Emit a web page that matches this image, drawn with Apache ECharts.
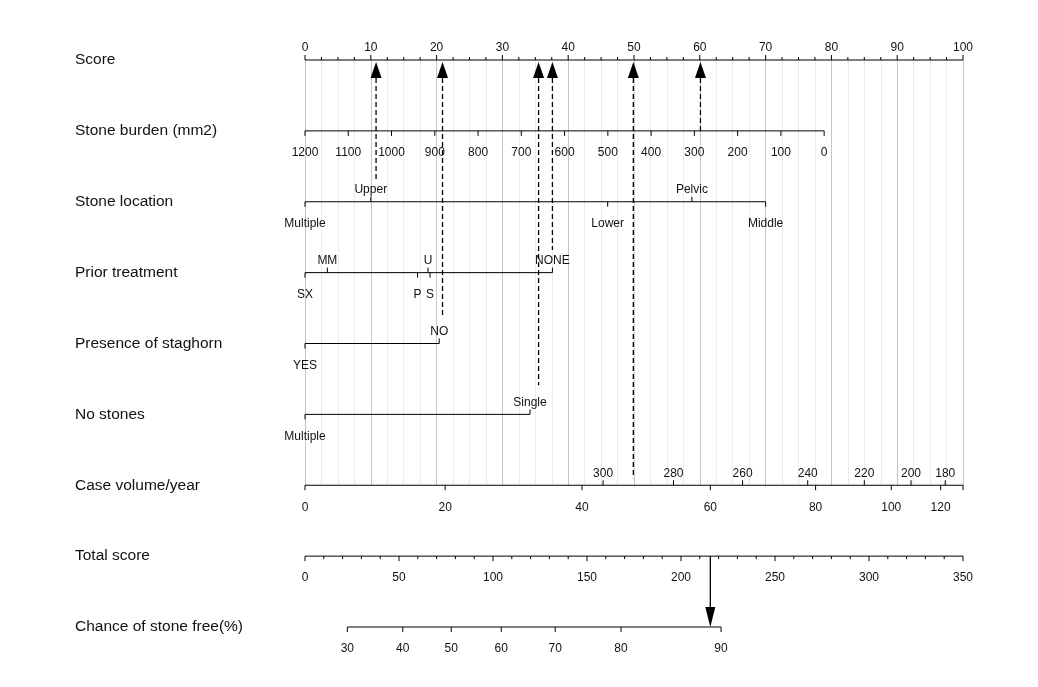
<!DOCTYPE html>
<html>
<head>
<meta charset="utf-8">
<script src="https://cdn.jsdelivr.net/npm/echarts@6/dist/echarts.min.js"></script>
<style>
  html, body { margin: 0; padding: 0; background: #fff; }
  #nomo { width: 1038px; height: 687px; }
</style>
</head>
<body>
<div id="nomo"></div>
<script>
// row names, top to bottom
var rowNames = ['Score', 'Stone burden (mm2)', 'Stone location', 'Prior treatment',
  'Presence of staghorn', 'No stones', 'Case volume/year', 'Total score', 'Chance of stone free(%)'];

// points axis
var scoreTicks = [0, 10, 20, 30, 40, 50, 60, 70, 80, 90, 100];
var scoreMinorStep = 2.5;

// stone burden: 1200 mm2 -> 0 points, 0 mm2 -> burdenMaxPoints
var burdenTicks = [1200, 1100, 1000, 900, 800, 700, 600, 500, 400, 300, 200, 100, 0];
var burdenMaxPoints = 78.9;

var locationLevels = ['Multiple', 'Upper', 'Lower', 'Pelvic', 'Middle'];
var locationPoints = [0, 10.0, 46.0, 58.8, 70.0];
var locationUp = [0, 1, 0, 1, 0];

var priorLevels = ['SX', 'MM', 'P', 'U', 'S', 'NONE'];
var priorPoints = [0, 3.4, 17.1, 18.7, 19.0, 37.6];
var priorUp = [0, 1, 0, 1, 0, 1];

var staghornLevels = ['YES', 'NO'];
var staghornPoints = [0, 20.4];
var staghornUp = [0, 1];

var stonesLevels = ['Multiple', 'Single'];
var stonesPoints = [0, 34.2];
var stonesUp = [0, 1];

// case volume (non-monotone): two label sets on one line
var caseUpperTicks = [300, 280, 260, 240, 220, 200, 180];
var caseUpperPoints = [45.3, 56.0, 66.5, 76.4, 85.0, 92.1, 97.3];
var caseLowerTicks = [0, 20, 40, 60, 80, 100, 120];
var caseLowerPoints = [0, 21.3, 42.1, 61.6, 77.6, 89.1, 96.6];
var caseEndPoints = 100;

// total points axis
var totalTicks = [0, 50, 100, 150, 200, 250, 300, 350];
var totalMinorStep = 10;
var totalMax = 350;

// probability axis, positions in total points
var chanceTicks = [30, 40, 50, 60, 70, 80, 90];
var chanceTotals = [22.5, 52.0, 77.8, 104.4, 133.1, 168.1, 221.3];

// example patient
var patientPoints = [10.8, 20.9, 35.5, 37.6, 49.9, 60.1];
var patientEndRows = [1.69, 3.64, 4.59, 2.68, 5.9, 1.0];
var patientTotal = 215.6;

var FONT = 'Arial, "Liberation Sans", sans-serif';
var chartDom = document.getElementById('nomo');
var myChart = echarts.init(chartDom);

function toTotal(t) { return t * 100 / totalMax; }

function axisLine(row, from, to) {
  return {
    type: 'line', xAxisIndex: 1, yAxisIndex: 1, symbol: 'none', silent: true,
    animation: false, clip: false,
    lineStyle: { color: '#000', width: 1 },
    data: [[from, row], [to, row]]
  };
}

function tickSeries(row, points, labels, up, len) {
  return {
    type: 'custom', xAxisIndex: 1, yAxisIndex: 1, silent: true,
    animation: false, clip: false,
    data: points.map(function (p, i) { return [p, row, up[i] ? 1 : 0]; }),
    renderItem: function (params, api) {
      var c = api.coord([api.value(0), api.value(1)]);
      var dir = api.value(2) ? -1 : 1;
      var label = labels ? String(labels[params.dataIndex]) : '';
      var kids = [{
        type: 'line',
        shape: { x1: c[0], y1: c[1], x2: c[0], y2: c[1] + dir * len },
        style: { stroke: '#000', lineWidth: 1 }
      }];
      if (label) {
        kids.push({
          type: 'text',
          style: {
            text: label, x: c[0], y: dir < 0 ? c[1] - 6 : c[1] + 16,
            align: 'center', verticalAlign: dir < 0 ? 'bottom' : 'top',
            fontSize: 12, fontFamily: FONT, fill: '#111'
          }
        });
      }
      return { type: 'group', children: kids };
    }
  };
}

function fill(arr, v) { return arr.map(function () { return v; }); }
function steps(max, step, skip) {
  var out = [];
  for (var v = 0; v <= max + 1e-9; v += step) {
    if (Math.abs(v / skip - Math.round(v / skip)) > 1e-6) out.push(v);
  }
  return out;
}

var series = [];

// row 0: points
var scoreMinor = steps(100, scoreMinorStep, 10);
series.push(axisLine(0, 0, 100));
series.push(tickSeries(0, scoreTicks, scoreTicks, fill(scoreTicks, 1), 5));
series.push(tickSeries(0, scoreMinor, null, fill(scoreMinor, 1), 3));

// row 1: stone burden
var burdenPoints = burdenTicks.map(function (b) { return burdenMaxPoints * (1200 - b) / 1200; });
series.push(axisLine(1, 0, burdenMaxPoints));
series.push(tickSeries(1, burdenPoints, burdenTicks, fill(burdenTicks, 0), 5));

// rows 2-5: categorical
series.push(axisLine(2, 0, Math.max.apply(null, locationPoints)));
series.push(tickSeries(2, locationPoints, locationLevels, locationUp, 5));
series.push(axisLine(3, 0, Math.max.apply(null, priorPoints)));
series.push(tickSeries(3, priorPoints, priorLevels, priorUp, 5));
series.push(axisLine(4, 0, Math.max.apply(null, staghornPoints)));
series.push(tickSeries(4, staghornPoints, staghornLevels, staghornUp, 5));
series.push(axisLine(5, 0, Math.max.apply(null, stonesPoints)));
series.push(tickSeries(5, stonesPoints, stonesLevels, stonesUp, 5));

// row 6: case volume
series.push(axisLine(6, 0, caseEndPoints));
series.push(tickSeries(6, caseUpperPoints, caseUpperTicks, fill(caseUpperTicks, 1), 5));
series.push(tickSeries(6, caseLowerPoints, caseLowerTicks, fill(caseLowerTicks, 0), 5));
series.push(tickSeries(6, [caseEndPoints], null, [0], 5));

// row 7: total score
var totalMinor = steps(totalMax, totalMinorStep, 50);
series.push(axisLine(7, 0, 100));
series.push(tickSeries(7, totalTicks.map(toTotal), totalTicks, fill(totalTicks, 0), 5));
series.push(tickSeries(7, totalMinor.map(toTotal), null, fill(totalMinor, 0), 3));

// row 8: chance
var chancePts = chanceTotals.map(toTotal);
series.push(axisLine(8, chancePts[0], chancePts[chancePts.length - 1]));
series.push(tickSeries(8, chancePts, chanceTicks, fill(chanceTicks, 0), 5));

// patient arrows up to the points axis
series.push({
  type: 'custom', xAxisIndex: 1, yAxisIndex: 1, silent: true, animation: false, clip: false,
  data: patientPoints.map(function (p, i) { return [p, patientEndRows[i]]; }),
  renderItem: function (params, api) {
    var top = api.coord([api.value(0), 0]);
    var end = api.coord([api.value(0), api.value(1)]);
    var x = top[0], tip = top[1] + 2, base = top[1] + 18;
    return {
      type: 'group', children: [
        { type: 'line', shape: { x1: x, y1: base, x2: x, y2: end[1] },
          style: { stroke: '#000', lineWidth: 1.3, lineDash: [5, 3] } },
        { type: 'polygon', shape: { points: [[x, tip], [x - 5.5, base], [x + 5.5, base]] },
          style: { fill: '#000' } }
      ]
    };
  }
});

// total -> chance arrow
series.push({
  type: 'custom', xAxisIndex: 1, yAxisIndex: 1, silent: true, animation: false, clip: false,
  data: [[toTotal(patientTotal), 7]],
  renderItem: function (params, api) {
    var a = api.coord([api.value(0), 7]);
    var b = api.coord([api.value(0), 8]);
    var x = a[0];
    return {
      type: 'group', children: [
        { type: 'line', shape: { x1: x, y1: a[1], x2: x, y2: b[1] - 14 },
          style: { stroke: '#000', lineWidth: 1.3 } },
        { type: 'polygon', shape: { points: [[x - 5, b[1] - 20], [x + 5, b[1] - 20], [x, b[1]]] },
          style: { fill: '#000' } }
      ]
    };
  }
});

var option = {
  backgroundColor: '#fff',
  animation: false,
  grid: [
    { left: 305, right: 75, top: 60, height: 425.25 },
    { left: 305, right: 75, top: 60, height: 567 }
  ],
  xAxis: [
    {
      gridIndex: 0, type: 'value', min: 0, max: 100, interval: 10,
      axisLine: { show: false }, axisTick: { show: false }, axisLabel: { show: false },
      splitLine: { show: true, lineStyle: { color: '#c6c6c6', width: 1 } },
      minorTick: { show: false, splitNumber: 4 },
      minorSplitLine: { show: true, lineStyle: { color: '#ebebeb', width: 1 } }
    },
    {
      gridIndex: 1, type: 'value', min: 0, max: 100, show: false
    }
  ],
  yAxis: [
    { gridIndex: 0, type: 'value', min: 0, max: 6, show: false },
    {
      gridIndex: 1, type: 'value', min: 0, max: 8, interval: 1, inverse: true,
      axisLine: { show: false }, axisTick: { show: false }, splitLine: { show: false },
      axisLabel: {
        show: true, align: 'left', margin: 230, color: '#111',
        fontSize: 15.5, fontFamily: FONT, padding: [5, 0, 0, 0],
        formatter: function (v) { return rowNames[v] || ''; }
      }
    }
  ],
  series: series
};

option && myChart.setOption(option);
</script>
</body>
</html>
